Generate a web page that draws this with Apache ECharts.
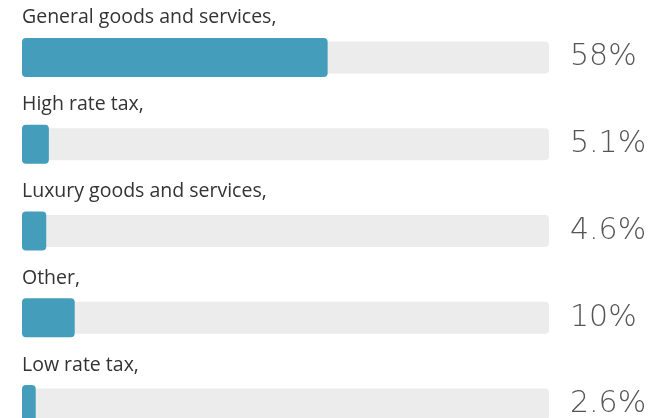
<!DOCTYPE html>
<html>
<head>
<meta charset="utf-8">
<script src="https://cdn.jsdelivr.net/npm/echarts@6/dist/echarts.min.js"></script>
<style>
html,body{margin:0;padding:0;background:#fff;}
#chart{width:654px;height:418px;}
</style>
</head>
<body>
<div id="chart"></div>
<script>
var categories = ["General goods and services,", "High rate tax,", "Luxury goods and services,", "Other,", "Low rate tax,"];
var values = [58, 5.1, 4.6, 10, 2.6];
var valueLabels = ["58%", "5.1%", "4.6%", "10%", "2.6%"];
var trackMax = 100;

var chart = echarts.init(document.getElementById('chart'), null, {renderer: 'canvas'});
var option = {
  animation: false,
  grid: {left: 22, right: 105, top: 14, height: 434, outerBoundsMode: 'none', containLabel: false},
  xAxis: {type: 'value', min: 0, max: trackMax, show: false},
  yAxis: [
    {type: 'category', data: categories, inverse: true, show: false},
    {type: 'category', data: categories, inverse: true, show: false}
  ],
  series: [
    {
      type: 'bar',
      yAxisIndex: 0,
      data: categories.map(function(){ return trackMax; }),
      barWidth: 32,
      itemStyle: {color: '#ececec', borderRadius: 4},
      silent: true,
      label: {
        show: true,
        position: 'right',
        distance: 21,
        fontFamily: 'DejaVu Sans',
        fontWeight: 200,
        fontSize: 30,
        color: '#555',
        formatter: function(p){ return valueLabels[p.dataIndex]; }
      }
    },
    {
      type: 'bar',
      yAxisIndex: 1,
      data: values,
      barWidth: 39,
      itemStyle: {color: '#449dba', borderRadius: 4},
      label: {
        show: true,
        position: [0, -20],
        align: 'left',
        verticalAlign: 'middle',
        fontFamily: 'Open Sans',
        fontWeight: 500,
        fontSize: 19.5,
        color: '#333',
        formatter: function(p){ return categories[p.dataIndex]; }
      }
    }
  ]
};
chart.setOption(option);
</script>
</body>
</html>
